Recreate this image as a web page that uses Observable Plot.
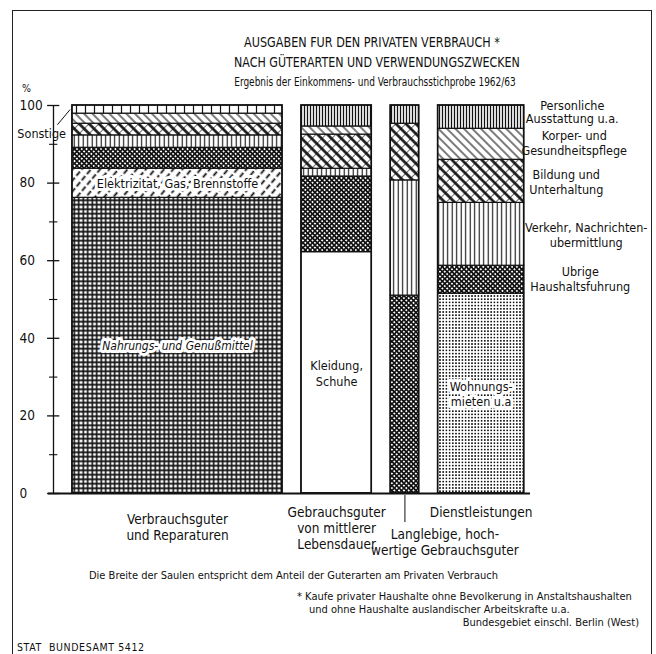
<!DOCTYPE html>
<html><head><meta charset="utf-8">
<script src="https://cdn.jsdelivr.net/npm/d3@7"></script>
<script src="https://cdn.jsdelivr.net/npm/@observablehq/plot@0.6"></script>
<style>
body{margin:0;background:#fff;}
#wrap{position:relative;width:656px;height:654px;overflow:hidden;background:#fff;font-family:"DejaVu Sans Condensed","Liberation Sans Narrow",sans-serif;color:#111;}
#frame{position:absolute;left:12px;top:10px;width:638px;height:700px;border:1.5px solid #222;}
#chart{position:absolute;left:0;top:0;}
.t{position:absolute;white-space:nowrap;line-height:1;}
.c{width:600px;text-align:center;transform-origin:50% 50%;}
</style></head><body>
<div id="wrap">
  <div id="frame"></div>
  <div id="chart"></div>
  <div class="t c" style="left:72px;top:35px;font-size:14px;transform:scaleX(0.89);">AUSGABEN FUR DEN PRIVATEN VERBRAUCH *</div>
  <div class="t c" style="left:77px;top:55px;font-size:14px;transform:scaleX(0.88);">NACH GÜTERARTEN UND VERWENDUNGSZWECKEN</div>
  <div class="t c" style="left:75px;top:76px;font-size:12.5px;transform:scaleX(0.8);">Ergebnis der Einkommens- und Verbrauchsstichprobe 1962/63</div>
  <div class="t" style="left:22px;top:83px;font-size:10.5px;">%</div>
  <div class="t" style="left:89px;top:570px;font-size:11px;">Die Breite der Saulen entspricht dem Anteil der Guterarten am Privaten Verbrauch</div>
  <div class="t" style="left:297px;top:591px;font-size:11px;">* Kaufe privater Haushalte ohne Bevolkerung in Anstaltshaushalten</div>
  <div class="t" style="left:309px;top:604px;font-size:11px;">und ohne Haushalte auslandischer Arbeitskrafte u.a.</div>
  <div class="t" style="right:17px;top:617px;font-size:11px;">Bundesgebiet einschl. Berlin (West)</div>
  <div class="t" style="left:17px;top:642px;font-size:10.5px;letter-spacing:0.6px;">STAT&nbsp; BUNDESAMT 5412</div>
</div>
<script>
// ---- data ----
const categories = ["Verbrauchsguter\nund Reparaturen", "Gebrauchsguter\nvon mittlerer\nLebensdauer", "Langlebige, hoch-\nwertige Gebrauchsguter", "Dienstleistungen"];
const categoryShares = [53.2, 17.8, 7.2, 21.8];   // width of columns (% of private consumption)

// segments per column, bottom to top (% of column)
const bar1Keys = ["Nahrung", "Elektr", "Uebrige", "Verkehr", "Bildung", "Koerper", "Sonstige"];
const bar1Values = [76.2, 7.5, 5.4, 3.2, 3.0, 2.6, 2.1];
const bar2Keys = ["Kleidung", "Uebrige", "Verkehr", "Bildung", "Koerper", "Persoenl"];
const bar2Values = [62.2, 19.5, 2.0, 8.8, 2.1, 5.4];
const bar3Keys = ["Uebrige", "Verkehr", "Bildung", "Persoenl"];
const bar3Values = [51.0, 29.7, 14.6, 4.7];
const bar4Keys = ["Wohnung", "Uebrige", "Verkehr", "Bildung", "Koerper", "Persoenl"];
const bar4Values = [51.5, 7.2, 16.2, 11.1, 8.0, 6.0];

const innerLabelKeys = ["Nahrung", "Elektr", "Kleidung", "Wohnung"];
const innerLabelTexts = ["Nahrungs- und Genußmittel", "Elektrizitat, Gas, Brennstoffe", "Kleidung,\nSchuhe", "Wohnungs-\nmieten u.a"];
const sideLabelKeys = ["Persoenl", "Koerper", "Bildung", "Verkehr", "Uebrige"];
const sideLabelTexts = ["Personliche\nAusstattung u.a.", "Korper- und\nGesundheitspflege", "Bildung und\nUnterhaltung", "Verkehr, Nachrichten-\nubermittlung", "Ubrige\nHaushaltsfuhrung"];
const otherLabel = "Sonstige";
const majorTicks = [0, 20, 40, 60, 80, 100];
const minorTicks = [10, 30, 50, 70, 90];

// ---- styles ----
const patternFill = {
  Nahrung: "url(#pGrid)", Elektr: "url(#pElek)", Uebrige: "url(#pCross)", Verkehr: "url(#pVert)",
  Bildung: "url(#pBild)", Koerper: "url(#pKoer)", Persoenl: "url(#pPers)", Sonstige: "url(#pSonst)",
  Wohnung: "url(#pDots)", Kleidung: "#ffffff"
};
const gap = 4.8;
const bottomDy = [19, 12, 34, 12];
const bottomDx = [0, 0, 40, 0];
const sideDx = [-8, -6, -14, 6, 0];
const sideDy = [-5, -2, 0, 0, -1];

// ---- build table ----
const allKeys = [bar1Keys, bar2Keys, bar3Keys, bar4Keys];
const allValues = [bar1Values, bar2Values, bar3Values, bar4Values];
let cx = 0;
const bars = categories.map((name, i) => {
  const b = {i, name, x1: cx, x2: cx + categoryShares[i]};
  b.cx = (b.x1 + b.x2) / 2;
  cx += categoryShares[i] + gap;
  return b;
});
const xEnd = bars[bars.length - 1].x2;
const segments = [];
bars.forEach((b, i) => {
  let acc = 0;
  allKeys[i].forEach((k, j) => {
    const v = allValues[i][j];
    segments.push({bar: i, key: k, x1: b.x1, x2: b.x2, cx: b.cx, y1: acc, y2: acc + v, mid: acc + v / 2});
    acc += v;
  });
});
const seg = (bar, key) => segments.find(s => s.bar === bar && s.key === key);
const innerLabels = innerLabelKeys.map((k, i) => {
  const s = segments.find(d => d.key === k);
  return {...s, text: innerLabelTexts[i], italic: k === "Nahrung"};
});
const sideLabels = sideLabelKeys.map((k, i) => ({...seg(3, k), text: sideLabelTexts[i], i}));
const sonst = seg(0, "Sonstige");

const font = '"DejaVu Sans Condensed","Liberation Sans Narrow",sans-serif';

const plot = Plot.plot({
  width: 656, height: 654,
  marginLeft: 53, marginRight: 126, marginTop: 105, marginBottom: 161,
  x: {domain: [-gap, xEnd + 1.6], axis: null},
  y: {domain: [0, 100], axis: null},
  color: {type: "identity"},
  style: {fontFamily: font, fontSize: "12px", color: "#111", background: "transparent", overflow: "visible"},
  marks: [
    Plot.rect(segments, {x1: "x1", x2: "x2", y1: "y1", y2: "y2", fill: d => patternFill[d.key], stroke: "#111", strokeWidth: 1.2}),
    Plot.rect(bars, {x1: "x1", x2: "x2", y1: 0, y2: 100, fill: "none", stroke: "#111", strokeWidth: 1.6}),
    Plot.ruleX([-gap], {y1: 0, y2: 100, stroke: "#111", strokeWidth: 1.3}),
    Plot.ruleY(majorTicks, {y: d => d, x1: -gap - 1.5, x2: -gap + 1.6, stroke: "#111", strokeWidth: 1.3}),
    Plot.ruleY(minorTicks, {y: d => d, x1: -gap - 1.0, x2: -gap + 1.1, stroke: "#111", strokeWidth: 1.1}),
    Plot.axisY(majorTicks, {anchor: "left", tickSize: 0, tickPadding: 34, textAnchor: "start", label: null, fontSize: 13.5}),
    Plot.ruleY([0], {x1: -gap - 1.3, x2: xEnd + 1.6, stroke: "#111", strokeWidth: 2}),
    // inner labels
    Plot.text(innerLabels.filter(d => !d.italic), {x: "cx", y: "mid", text: "text", fontSize: 12.5, lineHeight: 1.25, fill: "#111", stroke: "white", strokeWidth: 6, paintOrder: "stroke"}),
    Plot.text(innerLabels.filter(d => d.italic), {x: "cx", y: "mid", text: "text", fontSize: 12, fontStyle: "italic", fill: "#111", stroke: "white", strokeWidth: 6, paintOrder: "stroke"}),
    // side labels (Verwendungszwecke)
    ...sideLabels.map((d, i) => Plot.text([d], {x: () => xEnd + 14.2, y: "mid", text: "text", dx: sideDx[i], dy: sideDy[i], fontSize: 12.5, lineHeight: i === 0 ? 1.08 : 1.2, fill: "#111"})),
    // Sonstige label + leader
    Plot.text([sonst], {x: d => d.x1 - 7.8, y: d => d.mid - 6.3, text: () => otherLabel, fontSize: 12.5, fill: "#111"}),
    Plot.link([sonst], {x1: d => d.x1 - 3.8, y1: d => d.mid - 3.9, x2: d => d.x1 - 0.6, y2: d => d.mid, stroke: "#111", strokeWidth: 1}),
    // bottom category labels
    ...bars.map((b, i) => Plot.text([b], {x: "cx", y: 0, text: "name", lineAnchor: "top", dy: bottomDy[i], dx: bottomDx[i], fontSize: 13.5, lineHeight: 1.19, fill: "#111"})),
    Plot.ruleX([bars[2]], {x: "cx", y1: -0.5, y2: -7.5, stroke: "#111", strokeWidth: 1})
  ]
});

const defs = `
<pattern id="pGrid" width="4.5" height="4.5" patternUnits="userSpaceOnUse"><rect width="4.5" height="4.5" fill="#fff"/><path d="M0 2.25H4.5M2.25 0V4.5" stroke="#111" stroke-width="1.6"/></pattern>
<pattern id="pElek" width="7" height="8" patternUnits="userSpaceOnUse" patternTransform="rotate(40)"><rect width="7" height="8" fill="#fff"/><path d="M3.5 0V5.5" stroke="#111" stroke-width="1.8"/></pattern>
<pattern id="pCross" width="3.4" height="3.4" patternUnits="userSpaceOnUse" patternTransform="rotate(45)"><rect width="3.4" height="3.4" fill="#fff"/><path d="M0 1.7H3.4M1.7 0V3.4" stroke="#111" stroke-width="1.6"/></pattern>
<pattern id="pVert" width="4.5" height="10" patternUnits="userSpaceOnUse"><rect width="4.5" height="10" fill="#fff"/><path d="M2.2 0V10" stroke="#111" stroke-width="1.1"/></pattern>
<pattern id="pBild" width="7" height="7" patternUnits="userSpaceOnUse" patternTransform="rotate(-45)"><rect width="7" height="7" fill="#fff"/><path d="M3.5 0V7" stroke="#111" stroke-width="2.6"/><path d="M0 3.5H7" stroke="#111" stroke-width="0.6"/></pattern>
<pattern id="pKoer" width="6" height="6" patternUnits="userSpaceOnUse" patternTransform="rotate(-45)"><rect width="6" height="6" fill="#fff"/><path d="M3 0V6" stroke="#111" stroke-width="1.1"/></pattern>
<pattern id="pPers" width="3" height="6" patternUnits="userSpaceOnUse"><rect width="3" height="6" fill="#fff"/><path d="M1.5 0V6" stroke="#111" stroke-width="1.3"/></pattern>
<pattern id="pSonst" width="9" height="10" patternUnits="userSpaceOnUse"><rect width="9" height="10" fill="#fff"/><path d="M4.5 0V10" stroke="#111" stroke-width="1.2"/></pattern>
<pattern id="pDots" width="3.2" height="3.2" patternUnits="userSpaceOnUse"><rect width="3.2" height="3.2" fill="#fff"/><rect x="0.8" y="0.8" width="1.6" height="1.6" fill="#111"/></pattern>`;
d3.select(plot).insert("defs", ":first-child").html(defs);
document.getElementById("chart").appendChild(plot);
</script>
</body></html>
